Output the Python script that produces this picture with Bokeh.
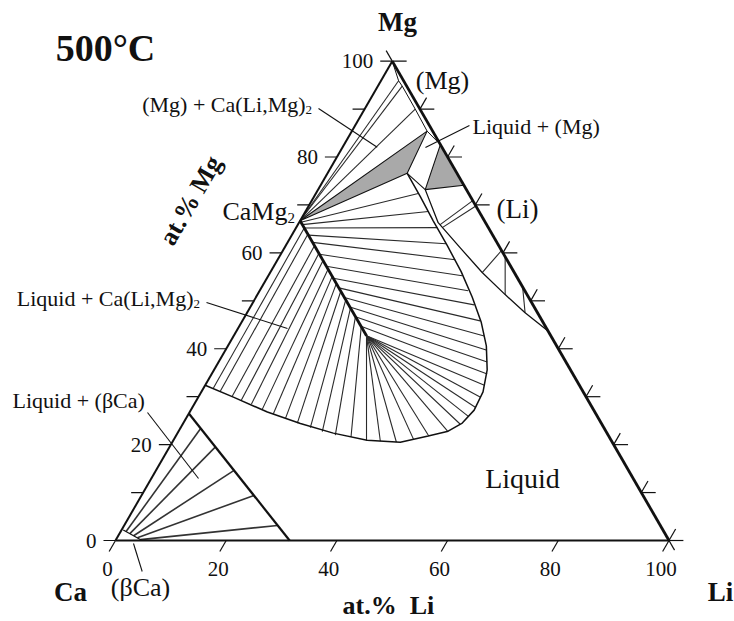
import numpy as np
from bokeh.plotting import figure
from bokeh.models import Range1d
from bokeh.core.properties import value
from bokeh.embed import file_html
from bokeh.resources import INLINE

# ---------------------------------------------------------------------------
# Ca-Li-Mg isothermal section at 500 °C.  All compositions in at.% (Li, Mg);
# Ca is the balance.
# ---------------------------------------------------------------------------

# Ca(Li,Mg)2 Laves phase: Ca fixed at 33.3 at.%, Li dissolves up to ~24 at.%
LAVES_LI = [0.0, 24.0]
LAVES_MG = [66.7, 42.7]

# Liquid boundary of the Ca-rich liquid (wraps round the Laves phase)
LIQ_LI = [0.0, 6.35, 14.04, 21.2, 28.15, 35.0, 41.2, 45.6, 48.7, 50.4, 51.2,
          50.9, 49.35, 46.7, 43.26, 39.04, 34.4, 29.2, 24.05, 19.15, 14.4]
LIQ_MG = [32.4, 29.9, 26.8, 24.4, 22.4, 20.9, 20.5, 21.8, 22.8, 24.5, 27.2,
          31.0, 35.6, 40.6, 45.6, 50.8, 56.1, 61.5, 66.7, 71.8, 76.6]

# Liquid boundary on the Li side (liquid / (Li)+liquid)
LIQ2_LI = [19.36, 25.15, 31.7, 38.3, 44.75, 50.25, 56.3]
LIQ2_MG = [73.2, 66.3, 61.1, 55.9, 51.3, 47.5, 43.7]

# (Mg) solvus near the Mg corner
MGSS_LI = [0.0, 3.2, 4.4, 9.15, 13.6, 17.4]
MGSS_MG = [100.0, 95.9, 94.8, 90.0, 85.4, 82.6]

# Three-phase triangles
TRI1_LI = [0.0, 13.6, 14.4]          # Liquid + (Mg) + Ca(Li,Mg)2
TRI1_MG = [66.7, 85.4, 76.6]
TRI2_LI = [17.4, 25.9, 19.36]        # Liquid + (Mg) + (Li)
TRI2_MG = [82.6, 74.1, 73.2]

# (Mg) + Ca(Li,Mg)2 tie lines (from CaMg2)
MGT_LI = [3.2, 4.4, 9.15]
MGT_MG = [95.9, 94.8, 90.0]

# Liquid + Ca(Li,Mg)2 tie lines, Ca-rich side (Laves Li -> liquid Li, Mg)
LT_LAVES_LI = [1.5, 2.8, 5.2, 6.8, 8.3, 10.1, 11.6, 13.1, 14.7, 16.5, 18.2, 20.0, 22.1]
LT_LIQ_LI = [1.79, 3.37, 6.05, 8.1, 10.33, 12.83, 15.29, 17.98, 20.61, 23.43, 26.01, 28.73, 31.75]
LT_LIQ_MG = [31.8, 31.17, 30.13, 29.29, 28.45, 27.41, 26.46, 25.42, 24.48, 23.54, 22.7, 21.97, 21.6]

# Liquid + Ca(Li,Mg)2 tie lines, Li-rich side
RT_LAVES_LI = [0.3, 0.8, 1.5, 3.0, 4.5, 7.0, 9.5, 12.0, 14.0, 16.0, 18.0, 20.0, 22.0]
RT_LIQ_LI = [18.5, 22.19, 25.49, 28.79, 32.08, 35.02, 37.67, 40.22, 42.97, 45.27, 47.1, 48.53, 49.79]
RT_LIQ_MG = [72.38, 68.62, 65.27, 61.92, 58.58, 55.23, 52.09, 49.16, 45.82, 42.68, 39.75, 37.24, 34.73]

# Tie lines fanning from the Li-richest Laves composition
ET_LIQ_LI = [50.45, 51.0, 51.1, 50.8, 50.1, 48.6, 45.7, 43.3, 40.5, 37.5, 34.9]
ET_LIQ_MG = [32.4, 29.9, 27.8, 25.9, 24.3, 22.8, 21.8, 21.1, 20.5, 20.7, 20.9]

# (Li) + Liquid tie lines (liquid end -> (Li) end on the Li-Mg side)
LIT_LIQ_LI = [25.7, 26.4, 38.3, 44.75, 50.25]
LIT_LIQ_MG = [65.9, 65.27, 55.9, 51.3, 47.5]
LIT_SOL_LI = [29.1, 30.2, 39.5, 40.8, 47.1]
LIT_SOL_MG = [70.9, 69.8, 60.5, 59.2, 52.9]

# (βCa) corner
BCA_SS_LI = [0.3, 4.8]
BCA_SS_MG = [2.2, 0.0]
BCA_LIQ_LI = [0.0, 31.46]
BCA_LIQ_MG = [26.5, 0.0]
BT_SOL_LI = [0.98, 1.88, 2.78, 3.68, 4.44]
BT_SOL_MG = [1.87, 1.43, 0.99, 0.55, 0.18]
BT_LIQ_LI = [3.7, 8.3, 14.1, 20.3, 27.7]
BT_LIQ_MG = [23.37, 19.52, 14.64, 9.41, 3.14]

# Axis ticks
EDGE_TICKS = list(range(0, 101, 10))
LEFT_LABELS = [0, 20, 40, 60, 80, 100]
BOTTOM_LABELS = [0, 20, 40, 60, 80, 100]

S3 = np.sqrt(3) / 2


def tern(li, mg):
    """(Li, Mg) at.% -> cartesian position in the equilateral triangle."""
    li = np.asarray(li, dtype=float)
    mg = np.asarray(mg, dtype=float)
    return li + mg / 2.0, mg * S3


def laves(li):
    li = np.asarray(li, dtype=float)
    return tern(li, 66.7 - li)


SCALE = 5.535           # px per at.%
W, H = 734, 621
OX, OY = 115, 540       # page position of the Ca corner

p = figure(width=W, height=H,
           x_range=Range1d(-OX / SCALE, (W - OX) / SCALE),
           y_range=Range1d((OY - H) / SCALE, OY / SCALE),
           output_backend="svg", toolbar_location=None,
           x_axis_location=None, y_axis_location=None,
           min_border=0, background_fill_color="white",
           border_fill_color="white")
p.grid.visible = False
p.outline_line_color = None

INK = "#111111"
THIN = "#2a2a2a"
GRAY = "#a9a9a9"
SERIF = value("Liberation Serif")

# --- shaded three-phase triangles -----------------------------------------
for tli, tmg in ((TRI1_LI, TRI1_MG), (TRI2_LI, TRI2_MG)):
    x, y = tern(tli, tmg)
    p.patch(x, y, fill_color=GRAY, line_color=INK, line_width=1.1)

# --- tie lines -------------------------------------------------------------
def ties(x0, y0, x1, y1, width=1.1, color=THIN):
    p.segment(x0=list(x0), y0=list(y0), x1=list(x1), y1=list(y1),
              line_color=color, line_width=width)

cx, cy = tern([0.0] * len(MGT_LI), [66.7] * len(MGT_LI))
mx, my = tern(MGT_LI, MGT_MG)
ties(cx, cy, mx, my)

ax, ay = laves(LT_LAVES_LI)
bx, by = tern(LT_LIQ_LI, LT_LIQ_MG)
ties(ax, ay, bx, by)

ax, ay = laves(RT_LAVES_LI)
bx, by = tern(RT_LIQ_LI, RT_LIQ_MG)
ties(ax, ay, bx, by)

ex, ey = laves([LAVES_LI[-1]] * len(ET_LIQ_LI))
bx, by = tern(ET_LIQ_LI, ET_LIQ_MG)
ties(ex, ey, bx, by)

ax, ay = tern(LIT_LIQ_LI, LIT_LIQ_MG)
bx, by = tern(LIT_SOL_LI, LIT_SOL_MG)
ties(ax, ay, bx, by)

ax, ay = tern(BT_SOL_LI, BT_SOL_MG)
bx, by = tern(BT_LIQ_LI, BT_LIQ_MG)
ties(ax, ay, bx, by, width=1.6, color="#333333")

# --- phase boundaries ------------------------------------------------------
x, y = tern(LIQ_LI, LIQ_MG)
p.line(x, y, line_color=INK, line_width=1.5)
x, y = tern(LIQ2_LI, LIQ2_MG)
p.line(x, y, line_color=INK, line_width=1.3)
x, y = tern([LIQ_LI[-1], LIQ2_LI[0]], [LIQ_MG[-1], LIQ2_MG[0]])
p.line(x, y, line_color=INK, line_width=1.1)
x, y = tern(MGSS_LI, MGSS_MG)
p.line(x, y, line_color=INK, line_width=1.0)
x, y = tern(BCA_SS_LI, BCA_SS_MG)
p.line(x, y, line_color=INK, line_width=1.2)
x, y = tern(BCA_LIQ_LI, BCA_LIQ_MG)
p.line(x, y, line_color=INK, line_width=2.2)
x, y = tern(LAVES_LI, LAVES_MG)
p.line(x, y, line_color=INK, line_width=2.8)

# --- triangle frame --------------------------------------------------------
x, y = tern([0, 0], [0, 100])
p.line(x, y, line_color=INK, line_width=2.0)
x, y = tern([0, 100], [0, 0])
p.line(x, y, line_color=INK, line_width=2.2)
x, y = tern([100, 0], [0, 100])
p.line(x, y, line_color=INK, line_width=2.8)

# --- ticks -----------------------------------------------------------------
t = np.array(EDGE_TICKS, dtype=float)
lx, ly = tern(np.zeros_like(t), t)
p.segment(x0=lx - 2.17, y0=ly, x1=lx, y1=ly, line_color=INK, line_width=1.2)
rx, ry = tern(100 - t, t)
p.segment(x0=rx, y0=ry, x1=rx + 2.6, y1=ry, line_color=INK, line_width=1.2)
inner = t < 100
p.segment(x0=rx[inner], y0=ry[inner], x1=rx[inner] + 0.5 * 2.4,
          y1=ry[inner] + S3 * 2.4, line_color=INK, line_width=1.2)
bt = np.array(BOTTOM_LABELS, dtype=float)
bx, by = tern(bt, np.zeros_like(bt))
p.segment(x0=bx, y0=by, x1=bx - 0.5 * 2.3, y1=by - S3 * 2.3,
          line_color=INK, line_width=1.2)
# extensions of the Mg-Li side beyond its two corners
tx, ty = tern([0, 100], [100, 0])
p.segment(x0=[tx[0], tx[1]], y0=[ty[0], ty[1]],
          x1=[tx[0] - 0.5 * 2.2, tx[1] + 0.5 * 2.0],
          y1=[ty[0] + S3 * 2.2, ty[1] - S3 * 2.0],
          line_color=INK, line_width=1.2)

# --- tick labels -----------------------------------------------------------
ll = np.array(LEFT_LABELS, dtype=float)
lx, ly = tern(np.zeros_like(ll), ll)
p.text(x=lx - 3.43, y=ly, text=[str(v) for v in LEFT_LABELS],
       text_font=SERIF, text_font_size=value("21px"), text_align="right",
       text_baseline="middle", text_color=INK)
p.text(x=bx - 1.45, y=by - 5.06, text=[str(v) for v in BOTTOM_LABELS],
       text_font=SERIF, text_font_size=value("21px"), text_align="center",
       text_baseline="middle", text_color=INK)


def label(x, y, txt, size="22px", align="left", bold=False, angle=0.0):
    p.text(x=[x], y=[y], text=[txt], text_font=SERIF,
           text_font_size=value(size), text_align=align,
           text_baseline="middle", text_color=INK,
           text_font_style="bold" if bold else "normal", angle=angle)


def pointer(x0, y0, x1, y1):
    p.segment(x0=[x0], y0=[y0], x1=[x1], y1=[y1], line_color=INK,
              line_width=1.1)


# corner and axis titles
label(-1.81, 88.89, "500°C", size="38px", align="center", bold=True)
label(50.95, 93.59, "Mg", size="27px", align="center", bold=True)
label(-8.13, -9.39, "Ca", size="27px", align="center", bold=True)
label(109.3, -9.39, "Li", size="27px", align="center", bold=True)
label(49.32, -11.74, "at.%\u2002Li", size="26px", align="center", bold=True)
label(13.55, 61.43, "at.% Mg", size="26px", align="center", bold=True,
      angle=np.pi / 3)

# phase labels
label(31.07, 59.44, "CaMg", size="26px", align="right")
label(31.07, 58.2, "2", size="15px", align="left")

label(14.09, 43.72, "Liquid + Ca(Li,Mg)", align="right")
label(14.09, 42.7, "2", size="13px", align="left")
pointer(16.44, 43.0, 31.07, 38.3)

label(34.33, 78.77, "(Mg) + Ca(Li,Mg)", align="right")
label(34.33, 77.75, "2", size="13px", align="left")
pointer(36.68, 78.05, 47.28, 71.06)

label(59.08, 83.11, "(Mg)", size="26px", align="center")
label(64.5, 74.8, "Liquid + (Mg)")
pointer(63.95, 74.98, 56.0, 71.0)

label(72.63, 59.98, "(Li)", size="27px", align="center")

label(-18.61, 25.29, "Liquid + (βCa)")
pointer(5.78, 23.13, 15.0, 11.2)

label(4.52, -8.49, "(βCa)", size="26px", align="center")
pointer(3.25, -0.54, 4.82, -5.6)

label(73.53, 11.2, "Liquid", size="28px", align="center")

open("out.html", "w").write(file_html(p, INLINE))
